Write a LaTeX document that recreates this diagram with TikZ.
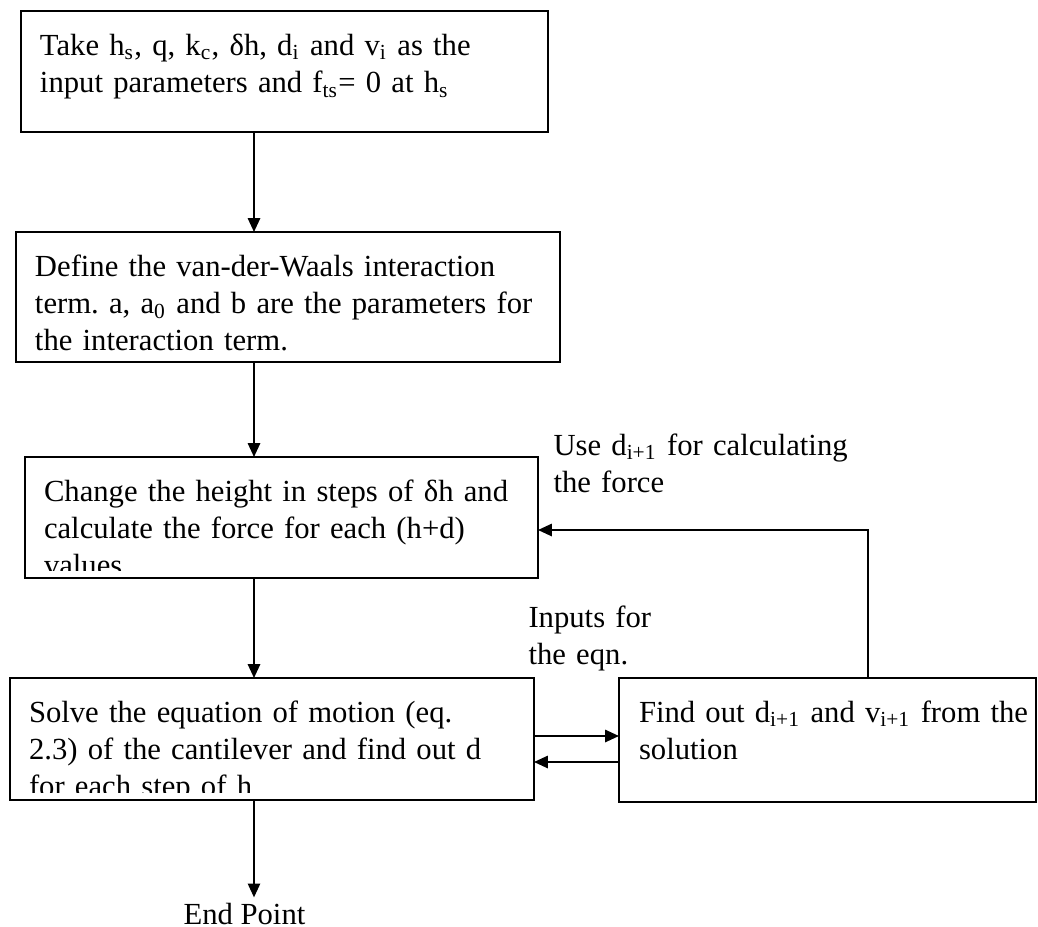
\documentclass[tikz,border=0pt]{standalone}
\usepackage{fontspec}
\setmainfont{Liberation Serif}
\usetikzlibrary{positioning,arrows.meta,calc}
\frenchspacing

\tikzset{
  stepbox/.style={draw, line width=0.75pt, anchor=north west, align=left,
    inner ysep=0pt, inner xsep=7.125pt, outer sep=0pt, text height=16.5pt,
    font=\fontsize{11.5pt}{14pt}\selectfont},
  steptext/.style={stepbox, draw=none},
  boxline/.style={line width=0.75pt},
  flow/.style={line width=0.75pt, -{Triangle[length=5.2pt,width=4.6pt]}},
  sidenote/.style={anchor=base west, align=left, inner sep=0pt,
    font=\fontsize{11.5pt}{14pt}\selectfont}
}
\newcommand{\sub}[1]{\textsubscript{#1}}

\begin{document}
\begin{tikzpicture}[x=0.375pt, y=-0.375pt]
    \path[use as bounding box, fill=white] (0,0) rectangle (1038,927);

    % helper points for the arrows
    \coordinate (spine) at (254,0);
    \coordinate (loop) at (868,530);
    \coordinate (fwd) at (0,736);
    \coordinate (back) at (0,762);

    % =========================================================
    % STEPS
    % =========================================================
    \node[stepbox, text width=183.375pt, text depth=28.875pt] (take) at (21,11)
        {Take h\sub{s}, q, k\sub{c}, δh, d\sub{i} and v\sub{i} as the\\
         input parameters and f\sub{ts}= 0 at h\sub{s}};

    \node[stepbox, text width=189.75pt, text depth=32.25pt] (define) at (16,232)
        {Define the van-der-Waals interaction\\
         term. a, a\sub{0} and b are the parameters for\\
         the interaction term.};

    % text runs past the bottom of the box, so it is clipped
    \begin{scope}
        \clip (20,450) rectangle (545,570);
        \node[steptext, text width=178.125pt, text depth=28.875pt] (change) at (25,457)
            {Change the height in steps of δh and\\
             calculate the force for each (h+d)\\
             values};
    \end{scope}
    \draw[boxline] (change.north west) rectangle (change.south east);

    \begin{scope}
        \clip (5,670) rectangle (540,792);
        \node[steptext, text width=182.25pt, text depth=29.25pt] (solve) at (10,678)
            {Solve the equation of motion (eq.\\
             2.3) of the cantilever and find out d\\
             for each step of h};
    \end{scope}
    \draw[boxline] (solve.north west) rectangle (solve.south east);

    \node[stepbox, inner xsep=7.5pt, text width=141.4pt, text depth=30pt] (find) at (619,678)
        {Find~out~d\sub{i+1}~and~v\sub{i+1}~from~the\\
         solution};

    \node[sidenote, outer ysep=2pt] (endpt) at (183,924) {End Point};

    % labels
    \node[sidenote, text width=125pt] (uselbl) at (553,455)
        {Use d\sub{i+1} for calculating\\ the force};
    \node[sidenote, text width=50pt] (inlbl) at (528,627)
        {Inputs for\\ the eqn.};

    % =========================================================
    % ARROWS
    % =========================================================
    \draw[flow] (take.south -| spine) -- (define.north -| spine);
    \draw[flow] (define.south -| spine) -- (change.north -| spine);
    \draw[flow] (change.south -| spine) -- (solve.north -| spine);
    \draw[flow] (solve.south -| spine) -- (endpt.north -| spine);

    \draw[flow] (solve.east |- fwd) -- (find.west |- fwd);
    \draw[flow] (find.west |- back) -- (solve.east |- back);

    \draw[flow] (find.north -| loop) |- (change.east |- loop);
\end{tikzpicture}
\end{document}
